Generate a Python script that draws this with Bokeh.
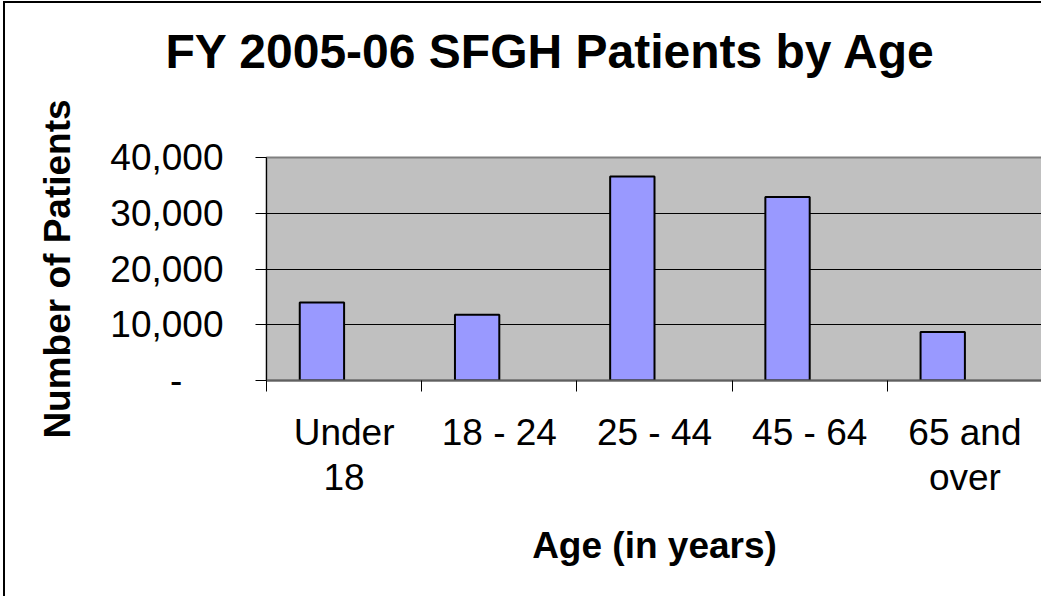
import numpy as np
from bokeh.plotting import figure
from bokeh.models import Range1d, FixedTicker, ColumnDataSource, Title
from bokeh.embed import file_html
from bokeh.resources import INLINE

# ---- data ----
categories = ["Under\n18", "18 - 24", "25 - 44", "45 - 64", "65 and\nover"]
patients = [14000, 11800, 36600, 32900, 8700]
y_ticks = [0, 10000, 20000, 30000, 40000]
y_tick_labels = ["-\u00a0\u00a0\u00a0\u00a0", "10,000", "20,000", "30,000", "40,000"]

title_text = "FY 2005-06 SFGH Patients by Age"
x_title = "Age (in years)"
y_title = "Number of Patients"

# ---- layout ----
n = len(categories)
idx = np.arange(n)
centers = [float(i) + 0.5 for i in idx]
bar_w = 2.0 / 7.0
src = ColumnDataSource(dict(x=idx + 0.5 - bar_w / 2, top=patients))

FONT = "Liberation Sans"

p = figure(width=1038, height=595, output_backend="svg", toolbar_location=None,
           x_range=Range1d(0, n), y_range=Range1d(0, 40000),
           min_border_left=261, min_border_right=1, min_border_top=154,
           min_border_bottom=218)
p.styles = {"margin-left": "3px", "margin-top": "1px",
            "margin-bottom": "-30px", "margin-right": "-30px",
            "border-left": "2px solid #000000", "border-top": "2px solid #000000"}

p.background_fill_color = "#C0C0C0"
p.border_fill_color = "white"
p.outline_line_color = "#808080"
p.outline_line_width = 2

p.vbar(x="x", top="top", width=bar_w, bottom=0, source=src,
       fill_color="#9999FF", line_color="black", line_width=2)

# main title (outermost slot of the top panel)
p.title.text = title_text
p.title.text_font = FONT
p.title.text_font_size = "48px"
p.title.text_font_style = "bold"
p.title.text_color = "black"
p.title.align = "left"
p.title.offset = -101
p.title.vertical_align = "top"
p.title.standoff = 0

# blank spacer between the frame and the title
spacer = Title(text="\u00a0", text_font_size="1px", standoff=75)
p.add_layout(spacer, "above")

# x axis
xa = p.xaxis[0]
xa.ticker = FixedTicker(ticks=centers, minor_ticks=[float(i) for i in range(n + 1)])
xa.major_label_overrides = dict(zip(centers, categories))
xa.major_tick_line_color = None
xa.major_tick_out = 11
xa.major_tick_in = 0
xa.minor_tick_line_color = "black"
xa.minor_tick_out = 11
xa.minor_tick_in = 0
xa.axis_line_color = "#606060"
xa.axis_line_width = 2
xa.major_label_text_font = FONT
xa.major_label_text_font_size = "37px"
xa.major_label_text_color = "black"
xa.major_label_text_line_height = 1.1
xa.major_label_standoff = 20
xa.axis_label = x_title
xa.axis_label_text_font = FONT
xa.axis_label_text_font_size = "37px"
xa.axis_label_text_font_style = "bold"
xa.axis_label_text_color = "black"
xa.axis_label_standoff = 24

# y axis
ya = p.yaxis[0]
ya.ticker = FixedTicker(ticks=y_ticks)
ya.major_label_overrides = dict(zip(y_ticks, y_tick_labels))
ya.major_tick_line_color = "black"
ya.major_tick_out = 11
ya.major_tick_in = 0
ya.minor_tick_line_color = None
ya.axis_line_color = "black"
ya.axis_line_width = 1
ya.major_label_text_font = FONT
ya.major_label_text_font_size = "37px"
ya.major_label_text_color = "black"
ya.major_label_standoff = 32
ya.axis_label = y_title
ya.axis_label_text_font = FONT
ya.axis_label_text_font_size = "37px"
ya.axis_label_text_font_style = "bold"
ya.axis_label_text_color = "black"
ya.axis_label_standoff = 29

p.xgrid.grid_line_color = None
p.ygrid.ticker = FixedTicker(ticks=y_ticks)
p.ygrid.grid_line_color = "black"
p.ygrid.grid_line_width = 1

open("out.html", "w").write(file_html(p, INLINE))
